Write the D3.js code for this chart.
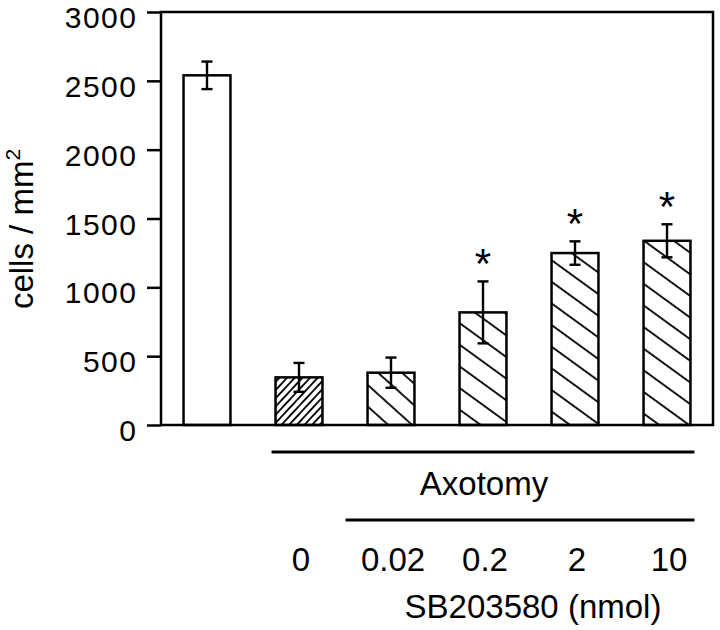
<!DOCTYPE html>
<html>
<head>
<meta charset="utf-8">
<script src="https://cdn.jsdelivr.net/npm/d3@7"></script>
<style>
  html, body { margin: 0; padding: 0; background: #fff; }
  svg { display: block; }
  text { font-family: "Liberation Sans", Arial, Helvetica, sans-serif; fill: #000; }
</style>
</head>
<body>
<svg id="chart" width="720" height="630"></svg>
<script>
// ---- data ----
const categories = ["Control", "0", "0.02", "0.2", "2", "10"];
const values = [2540, 346, 380, 818, 1249, 1338];
const errors = [100, 105, 110, 225, 85, 120];
const significant = [false, false, false, true, true, true];
const doseLabels = ["", "0", "0.02", "0.2", "2", "10"];
const patterns = ["none", "denseRight", "sparseLeft", "left", "left", "left"];
const yTicks = [0, 500, 1000, 1500, 2000, 2500, 3000];
const yTitle = "cells / mm";
const groupLabel = "Axotomy";
const drugLabel = "SB203580 (nmol)";

const FS = 33;
const svg = d3.select("#chart");
const plot = { left: 161, right: 713, top: 12, bottom: 425 };

const x = d3.scaleBand().domain(categories)
  .range([plot.left, plot.right]).paddingInner(0.49).paddingOuter(0.245);
const y = d3.scaleLinear().domain([0, 3000]).range([plot.bottom, plot.top]);

// patterns
const defs = svg.append("defs");
function hatch(id, angle, spacing, width) {
  const p = defs.append("pattern").attr("id", id)
    .attr("patternUnits", "userSpaceOnUse")
    .attr("width", 20).attr("height", spacing)
    .attr("patternTransform", `rotate(${angle})`);
  p.append("rect").attr("width", 20).attr("height", spacing).attr("fill", "#fff");
  p.append("line").attr("x1", -1).attr("x2", 21)
    .attr("y1", spacing / 2).attr("y2", spacing / 2)
    .attr("stroke", "#000").attr("stroke-width", width);
}
hatch("denseRight", -47, 5.6, 1.8);
hatch("sparseLeft", 42, 16, 1.8);
hatch("left", 36, 17.5, 1.8);

// y axis
const yAxis = d3.axisLeft(y).tickValues(yTicks).tickSize(14).tickPadding(9.5)
  .tickFormat(d3.format("d"));
const ya = svg.append("g").attr("transform", `translate(${plot.left},0)`).call(yAxis);
ya.select(".domain").remove();
ya.selectAll(".tick line").attr("stroke", "#000").attr("stroke-width", 2.5);
ya.selectAll(".tick text").attr("font-size", 30).attr("fill", "#000").attr("dy", "0.52em")
  .attr("letter-spacing", "1.5px")
  .attr("font-family", "Liberation Sans, Arial, sans-serif");

// y title
const yt = svg.append("text")
  .attr("transform", `translate(33,229) rotate(-90)`)
  .attr("text-anchor", "middle").attr("font-size", FS);
yt.append("tspan").text(yTitle);
yt.append("tspan").attr("font-size", 21).attr("dy", -13).text("2");

// bars
const data = categories.map((c, i) => ({ c, v: values[i], e: errors[i], s: significant[i], p: patterns[i] }));
svg.selectAll("rect.bar").data(data).enter().append("rect").attr("class", "bar")
  .attr("x", d => x(d.c)).attr("width", x.bandwidth())
  .attr("y", d => y(d.v)).attr("height", d => y(0) - y(d.v))
  .attr("fill", d => d.p === "none" ? "#fff" : `url(#${d.p})`)
  .attr("stroke", "#000").attr("stroke-width", 2.5);

// error bars
const eg = svg.append("g").attr("stroke", "#000").attr("stroke-width", 2.4);
data.forEach(d => {
  const cx = x(d.c) + x.bandwidth() / 2;
  eg.append("line").attr("x1", cx).attr("x2", cx).attr("y1", y(d.v + d.e)).attr("y2", y(d.v - d.e));
  eg.append("line").attr("x1", cx - 5.5).attr("x2", cx + 5.5).attr("y1", y(d.v + d.e)).attr("y2", y(d.v + d.e));
  eg.append("line").attr("x1", cx - 5.5).attr("x2", cx + 5.5).attr("y1", y(d.v - d.e)).attr("y2", y(d.v - d.e));
});

// significance stars
svg.selectAll("text.star").data(data.filter(d => d.s)).enter().append("text")
  .attr("class", "star")
  .attr("x", d => x(d.c) + x.bandwidth() / 2)
  .attr("y", d => y(d.v + d.e) - 3)
  .attr("text-anchor", "middle").attr("font-size", 42).text("*");

// frame
svg.append("rect").attr("x", plot.left).attr("y", plot.top)
  .attr("width", plot.right - plot.left).attr("height", plot.bottom - plot.top)
  .attr("fill", "none").attr("stroke", "#000").attr("stroke-width", 2.5);

// group annotation
const first = categories[1], last = categories[categories.length - 1];
const axoX1 = x(first) - 4, axoX2 = x(last) + x.bandwidth() + 4;
svg.append("line").attr("x1", axoX1).attr("x2", axoX2).attr("y1", 452).attr("y2", 452)
  .attr("stroke", "#000").attr("stroke-width", 3.2);
svg.append("text").attr("x", 484).attr("y", 495).attr("text-anchor", "middle")
  .attr("font-size", FS).text(groupLabel);
svg.append("line").attr("x1", x(categories[2]) - 22).attr("x2", axoX2).attr("y1", 520).attr("y2", 520)
  .attr("stroke", "#000").attr("stroke-width", 3.2);

svg.selectAll("text.dose").data(data).enter().append("text").attr("class", "dose")
  .attr("x", d => x(d.c) + x.bandwidth() / 2 + 2)
  .attr("y", 571).attr("text-anchor", "middle").attr("font-size", FS)
  .text((d, i) => doseLabels[i]);

svg.append("text").attr("x", 533).attr("y", 618).attr("text-anchor", "middle")
  .attr("font-size", FS).text(drugLabel);
</script>
</body>
</html>
